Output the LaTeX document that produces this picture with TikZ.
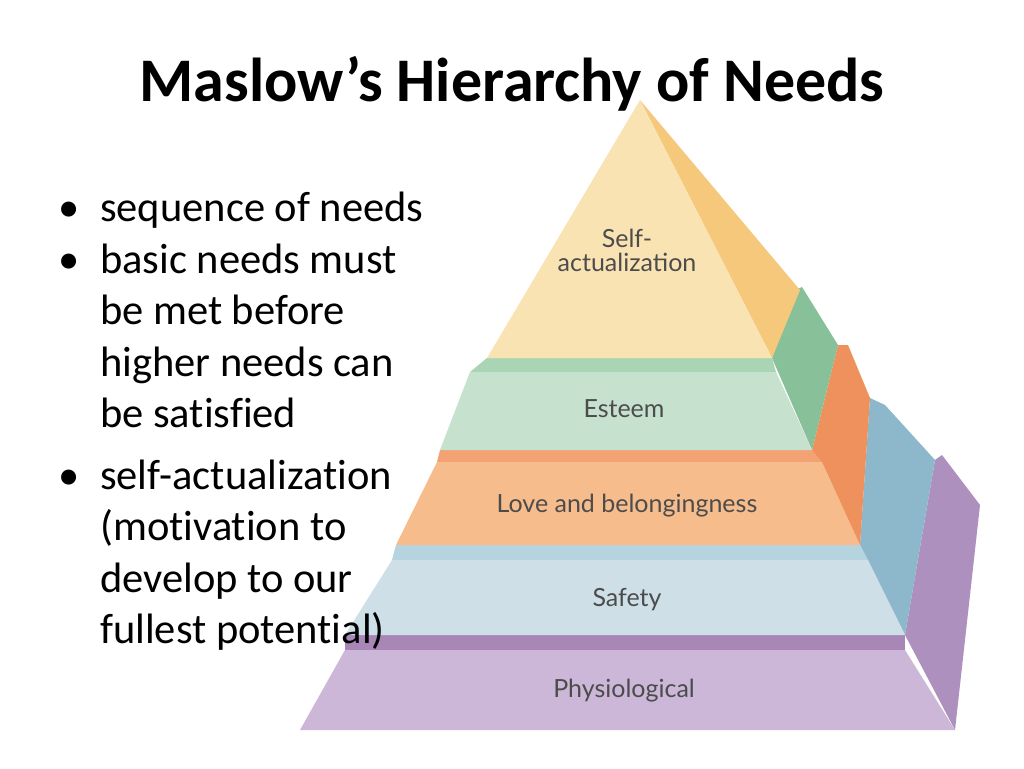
\documentclass[tikz,border=0pt]{standalone}
\usepackage{fontspec}
\setmainfont{Carlito}[Ligatures=NoCommon]
\newfontfamily\labfont{Lato}
\begin{document}
\begin{tikzpicture}[x=1pt,y=-1pt,
  lab/.style={font=\labfont\fontsize{25}{26}\selectfont, text=black!70, align=center}]
\useasboundingbox (0,0) rectangle (1024,768);
\fill[white] (0,0) rectangle (1024,768);
\definecolor{sfront}{HTML}{F9E3B3}\definecolor{sside}{HTML}{F6C87C}
\definecolor{efront}{HTML}{C6E1CD}\definecolor{estrip}{HTML}{A9D5B5}\definecolor{eside}{HTML}{88C09A}
\definecolor{lfront}{HTML}{F7BC8B}\definecolor{lstrip}{HTML}{F2A273}\definecolor{lside}{HTML}{EF915D}
\definecolor{afront}{HTML}{CEDFE8}\definecolor{astrip}{HTML}{B6D3E0}\definecolor{aside}{HTML}{8DB8CC}
\definecolor{pfront}{HTML}{CCB7D8}\definecolor{pstrip}{HTML}{A886B6}\definecolor{pside}{HTML}{AE90BF}
\newcommand\bl{\makebox[42pt][l]{\textbullet}}
\newcommand\ind{\hspace*{42pt}}
% physiological
\fill[pside] (905,635) -- (935,460) -- (942,455) -- (980,505) -- (955,730) -- cycle;
\fill[pstrip] (345,635) -- (905,635) -- (905,650) -- (345,650) -- cycle;
\fill[pfront] (345,650) -- (905,650) -- (955,730) -- (300,730) -- cycle;
% safety
\fill[aside] (860,545) -- (870,398) -- (885,405) -- (935,460) -- (905,635) -- cycle;
\fill[astrip] (396,545) -- (860,545) -- (868,560) -- (392,560) -- cycle;
\fill[afront] (392,560) -- (868,560) -- (905,635) -- (345,635) -- cycle;
% love
\fill[lside] (812,450) -- (838,345) -- (848,345) -- (870,398) -- (860,545) -- cycle;
\fill[lstrip] (440,450) -- (812,450) -- (822,462) -- (437,462) -- cycle;
\fill[lfront] (437,462) -- (822,462) -- (860,545) -- (396,545) -- cycle;
% esteem
\fill[eside] (772,358) -- (795,290) -- (802,287) -- (838,345) -- (812,450) -- cycle;
\fill[estrip] (487,358) -- (772,358) -- (776,372) -- (470,372) -- cycle;
\fill[efront] (470,372) -- (776,372) -- (812,450) -- (440,450) -- cycle;
% self-actualization
\fill[sside] (640,100) -- (800,290) -- (772,358) -- cycle;
\fill[sfront] (640,100) -- (772,358) -- (487,358) -- cycle;
\node[lab] (sa) at (627,250) {Self-\\[-2pt]actualization};
\node[lab] (es) at (624,409) {Esteem};
\node[lab] (lb) at (627,506) {Love and belongingness};
\node[lab] (sf) at (627,600) {Safety};
\node[lab] (ph) at (624,691) {Physiological};
\node[font=\bfseries\fontsize{62}{64}\selectfont] (title) at (512,84) {Maslow’s Hierarchy of Needs};
\node[anchor=north west, align=left, inner sep=0pt, font=\fontsize{42.5}{51.5}\selectfont] (bul) at (58,192)
{\bl sequence of needs\\
\bl basic needs must\\
\ind be met before\\
\ind higher needs can\\
\ind be satisfied\\[10pt]
\bl self-actualization\\
\ind (motivation to\\
\ind develop to our\\
\ind fullest potential)};
\end{tikzpicture}
\end{document}
